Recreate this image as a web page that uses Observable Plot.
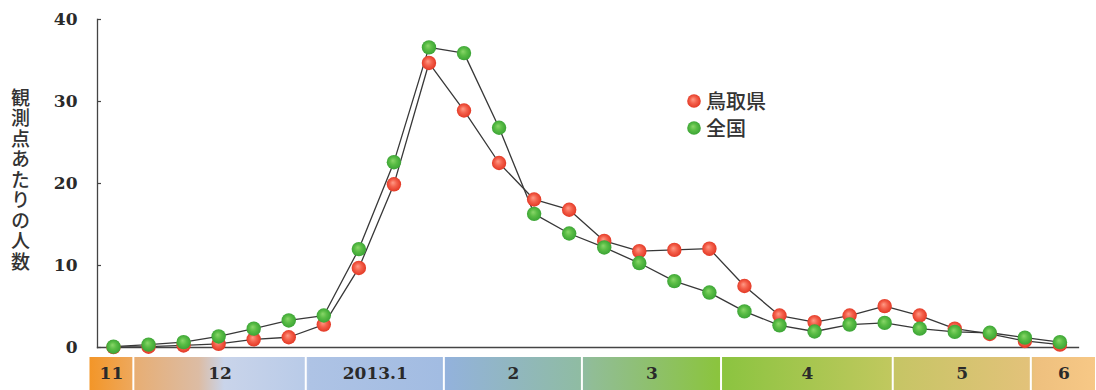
<!DOCTYPE html>
<html>
<head>
<meta charset="utf-8">
<script src="https://cdn.jsdelivr.net/npm/d3@7"></script>
<script src="https://cdn.jsdelivr.net/npm/@observablehq/plot@0.6"></script>
<style>
  html, body { margin: 0; padding: 0; background: #fff; }
  #wrap { position: relative; width: 1096px; height: 390px; overflow: hidden; background: #fff; }
  #wrap svg { display: block; overflow: visible; }
  #ylabel { position: absolute; left: 11px; top: 88px; writing-mode: vertical-rl; font-family: "Noto Sans CJK JP", sans-serif; font-size: 19px; font-weight: 500; letter-spacing: 1.5px; color: #333; line-height: 1; }
  #legend { position: absolute; left: 686px; top: 87px; font-family: "Noto Sans CJK JP", sans-serif; font-size: 20px; font-weight: 500; color: #333; line-height: 27px; }
  #legend div { display: flex; align-items: center; }
  #legend svg { margin-right: 4px; }
</style>
</head>
<body>
<div id="wrap"></div>
<script>
// ---- data ----
const weekIndex = d3.range(28);
const tottori = [0.05,0.1,0.25,0.45,1.0,1.25,2.8,9.7,19.9,34.7,28.9,22.5,18.05,16.8,13.0,11.75,11.9,12.05,7.5,3.9,3.1,3.9,5.05,3.9,2.3,1.65,0.8,0.35];
const national = [0.1,0.35,0.65,1.35,2.3,3.3,3.9,12.0,22.6,36.6,35.9,26.8,16.3,13.9,12.2,10.3,8.1,6.7,4.4,2.7,1.95,2.8,3.0,2.3,1.9,1.8,1.2,0.65];
const yTicks = [0, 10, 20, 30, 40];
const monthLabels = ["11", "12", "2013.1", "2", "3", "4", "5", "6"];
const monthStart = [-0.7, 0.58, 5.5, 9.44, 13.38, 17.35, 22.25, 26.19];
const monthEnd = [0.58, 5.5, 9.44, 13.38, 17.35, 22.25, 26.19, 28.05];
const seriesNames = ["鳥取県", "全国"];
const yLabel = "観測点あたりの人数";

const rows = weekIndex.map(i => ({i, tottori: tottori[i], national: national[i]}));
const months = monthLabels.map((m, k) => ({m, x1: monthStart[k], x2: monthEnd[k]}));

const serif = "'DejaVu Serif', serif";
const wrap = document.getElementById("wrap");

const band = Plot.plot({
  width: 1096, height: 38,
  marginLeft: 88.5, marginRight: 0, marginTop: 5, marginBottom: 0,
  style: {fontFamily: serif, color: "#333", background: "transparent"},
  x: {domain: [monthStart[0], monthEnd[monthEnd.length - 1]], axis: null},
  marks: [
    Plot.rectX(months, {x1: "x1", x2: "x2", fill: "url(#gBand)", insetLeft: 1, insetRight: 1}),
    Plot.text(months, {x: d => (d.x1 + d.x2) / 2, text: "m", frameAnchor: "middle", fontSize: 17, fontWeight: "bold", fontFamily: serif, fill: "#2a2a2a"})
  ]
});

const main = Plot.plot({
  width: 1096, height: 352,
  marginLeft: 97, marginRight: 18, marginTop: 19, marginBottom: 5,
  style: {fontFamily: serif, color: "#333", background: "transparent"},
  x: {domain: [-0.456, 27.53], axis: null},
  y: {domain: [0, 40]},
  marks: [
    Plot.axisY(yTicks, {tickSize: 0, tickPadding: 20, fontSize: 17, fontWeight: "bold", fontFamily: serif, fill: "#2a2a2a"}),
    Plot.tickY(yTicks, {y: d => d, insetRight: 977, stroke: "#444", strokeWidth: 1.2}),
    Plot.frame({anchor: "left", stroke: "#444", strokeWidth: 1.3}),
    Plot.frame({anchor: "bottom", stroke: "#444", strokeWidth: 1.3}),
    Plot.line(rows, {x: "i", y: "national", stroke: "#383838", strokeWidth: 1.3}),
    Plot.line(rows, {x: "i", y: "tottori", stroke: "#383838", strokeWidth: 1.3}),
    Plot.dot(rows, {x: "i", y: "tottori", r: 7.2, fill: "url(#gRed)"}),
    Plot.dot(rows, {x: "i", y: "national", r: 7.2, fill: "url(#gGreen)"})
  ]
});

const defs = d3.select(main).insert("defs", ":first-child");
function radial(id, stops) {
  const g = defs.append("radialGradient").attr("id", id)
    .attr("cx", "0.5").attr("cy", "0.5").attr("r", "0.55").attr("fx", "0.42").attr("fy", "0.38");
  stops.forEach(([o, c]) => g.append("stop").attr("offset", o).attr("stop-color", c));
}
radial("gRed", [[0, "#ff9a86"], [0.45, "#f4614c"], [1, "#e0321f"]]);
radial("gGreen", [[0, "#8ad66a"], [0.45, "#5abd45"], [1, "#36a033"]]);
const lg = defs.append("linearGradient").attr("id", "gBand")
  .attr("gradientUnits", "userSpaceOnUse").attr("x1", 88).attr("x2", 1096).attr("y1", 0).attr("y2", 0);
[[0, "#f39526"], [0.044, "#eea85c"], [0.047, "#e7ae74"], [0.11, "#dcbca4"], [0.135, "#c9d4ea"],
 [0.215, "#b9cbe8"], [0.22, "#aec3e5"], [0.35, "#a2bce2"], [0.355, "#93b2dc"], [0.49, "#8fbca2"],
 [0.5, "#91bd96"], [0.625, "#8bc43e"], [0.635, "#8dc441"], [0.795, "#c0c85e"], [0.8, "#c6c565"],
 [0.935, "#e3c27a"], [0.94, "#eec07e"], [1, "#f7c886"]]
  .forEach(([o, c]) => lg.append("stop").attr("offset", o).attr("stop-color", c));

wrap.appendChild(main);
wrap.appendChild(band);
main.style.position = "relative";
main.style.zIndex = "1";

// y label
const yl = document.createElement("div");
yl.id = "ylabel";
yl.textContent = yLabel;
wrap.appendChild(yl);

// legend
const leg = document.createElement("div");
leg.id = "legend";
const legFills = ["url(#gRed)", "url(#gGreen)"];
seriesNames.forEach((name, k) => {
  const row = document.createElement("div");
  row.innerHTML = `<svg width="16" height="16"><circle cx="8" cy="8" r="6.8" fill="${legFills[k]}"></circle></svg><span>${name}</span>`;
  leg.appendChild(row);
});
wrap.appendChild(leg);
</script>
</body>
</html>
